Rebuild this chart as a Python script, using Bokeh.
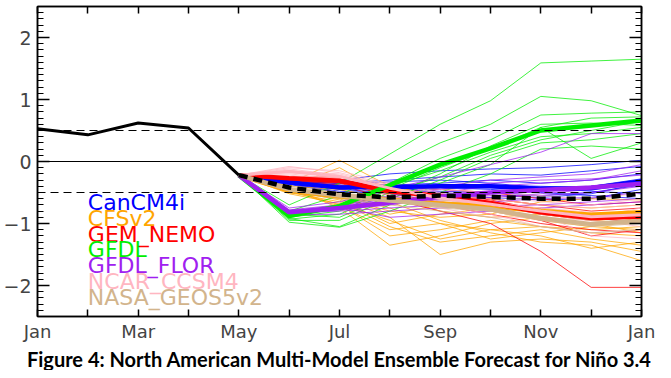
from bokeh.plotting import figure
from bokeh.models import LinearAxis, FixedTicker, Span, Title
from bokeh.core.properties import value
from bokeh.embed import file_html
from bokeh.resources import INLINE

# ---------------- data ----------------
month_labels = ["Jan", "", "Mar", "", "May", "", "Jul", "", "Sep", "", "Nov", "", "Jan"]
obs_months = [0, 1, 2, 3, 4]
obs_values = [0.53, 0.43, 0.62, 0.54, -0.22]
fc_months = [4, 5, 6, 7, 8, 9, 10, 11, 12]   # May (start) .. Jan

models = ["CanCM4i", "CFSv2", "GEM_NEMO", "GFDL", "GFDL_FLOR", "NCAR_CCSM4", "NASA_GEOS5v2"]
model_colors = ["#0000ff", "#ffa500", "#ff0000", "#00ee00", "#a020f0", "#ffb6c1", "#d2b48c"]

cancm4i_members = [
    [-0.30, -0.30, -0.20, -0.15, -0.12, -0.10, -0.05, 0.02],
    [-0.32, -0.35, -0.30, -0.25, -0.20, -0.22, -0.15, -0.08],
    [-0.33, -0.40, -0.38, -0.35, -0.30, -0.35, -0.30, -0.20],
    [-0.35, -0.42, -0.45, -0.40, -0.42, -0.45, -0.40, -0.28],
    [-0.34, -0.45, -0.50, -0.48, -0.50, -0.55, -0.50, -0.38],
    [-0.36, -0.48, -0.52, -0.55, -0.58, -0.62, -0.60, -0.45],
    [-0.33, -0.38, -0.42, -0.45, -0.38, -0.40, -0.42, -0.30],
    [-0.37, -0.50, -0.48, -0.42, -0.45, -0.50, -0.55, -0.60],
    [-0.31, -0.36, -0.33, -0.30, -0.35, -0.42, -0.48, -0.52],
    [-0.35, -0.44, -0.40, -0.50, -0.55, -0.58, -0.52, -0.35],
]
cfsv2_members = [
    [-0.35, 0.02, -0.40, -0.55, -0.60, -0.70, -0.75, -0.70],
    [-0.40, -0.10, -0.55, -0.80, -0.90, -0.85, -0.95, -1.00],
    [-0.45, -0.55, -0.75, -1.00, -1.10, -1.05, -1.15, -1.20],
    [-0.50, -0.65, -1.05, -1.30, -1.20, -1.10, -1.25, -1.35],
    [-0.45, -0.70, -1.20, -1.10, -0.95, -1.05, -1.10, -1.05],
    [-0.50, -0.60, -0.90, -1.50, -1.30, -1.25, -1.30, -1.45],
    [-0.42, -0.75, -1.35, -1.20, -1.00, -0.90, -1.00, -1.15],
    [-0.48, -0.55, -0.85, -0.70, -0.80, -0.95, -1.05, -0.90],
    [-0.44, -0.50, -0.65, -0.95, -1.15, -1.30, -1.35, -1.60],
    [-0.46, -0.62, -1.00, -0.85, -0.75, -0.80, -0.90, -0.85],
    [-0.40, -0.45, -0.60, -0.65, -0.70, -0.75, -0.85, -0.80],
    [-0.52, -0.68, -0.95, -1.25, -1.10, -1.20, -1.40, -1.30],
    [-0.43, -0.58, -0.80, -0.90, -0.85, -0.65, -0.60, -0.62],
    [-0.47, -0.72, -1.10, -1.00, -1.25, -1.15, -1.05, -1.10],
]
gem_nemo_members = [
    [-0.25, -0.25, -0.40, -0.45, -0.50, -0.60, -0.70, -0.65],
    [-0.28, -0.30, -0.50, -0.60, -0.70, -0.85, -0.95, -0.90],
    [-0.30, -0.35, -0.55, -0.70, -0.85, -1.00, -1.10, -1.15],
    [-0.27, -0.28, -0.45, -0.55, -0.60, -0.70, -0.80, -0.75],
    [-0.30, -0.38, -0.60, -0.80, -1.00, -1.45, -2.03, -2.03],
    [-0.26, -0.32, -0.48, -0.52, -0.62, -0.78, -0.90, -1.00],
    [-0.29, -0.34, -0.52, -0.65, -0.75, -0.95, -1.20, -1.10],
]
gfdl_members = [
    [-0.70, -0.35, 0.12, 0.60, 0.98, 1.59, 1.62, 1.65],
    [-0.80, -0.55, -0.10, 0.30, 0.60, 1.05, 0.98, 0.74],
    [-0.85, -0.70, -0.35, 0.05, 0.35, 0.75, 0.78, 0.80],
    [-0.90, -0.80, -0.45, -0.10, 0.20, 0.55, 0.70, 0.72],
    [-0.88, -0.75, -0.40, -0.15, 0.15, 0.40, 0.45, 0.55],
    [-0.95, -0.95, -0.60, -0.30, 0.05, 0.30, 0.35, 0.45],
    [-0.92, -1.05, -0.70, -0.35, -0.05, 0.55, 0.05, 0.30],
    [-0.98, -1.06, -0.80, -0.50, -0.20, 0.20, 0.25, 0.20],
    [-0.85, -0.90, -0.55, -0.20, 0.25, 0.60, 0.62, 0.58],
    [-0.93, -0.85, -0.50, -0.25, 0.10, 0.35, 0.50, 0.65],
]
gfdl_flor_members = [
    [-0.75, -0.65, -0.45, -0.25, -0.05, 0.15, 0.45, 0.45],
    [-0.78, -0.70, -0.55, -0.40, -0.30, -0.25, -0.20, -0.05],
    [-0.80, -0.72, -0.60, -0.50, -0.40, -0.35, -0.30, -0.15],
    [-0.82, -0.75, -0.65, -0.55, -0.50, -0.45, -0.40, -0.30],
    [-0.85, -0.78, -0.70, -0.60, -0.55, -0.55, -0.50, -0.40],
    [-0.83, -0.80, -0.75, -0.70, -0.65, -0.60, -0.58, -0.50],
    [-0.86, -0.85, -0.80, -0.75, -0.72, -0.70, -0.65, -0.60],
    [-0.79, -0.74, -0.90, -0.85, -0.80, -0.75, -0.70, -0.65],
    [-0.81, -0.70, -0.58, -0.45, -0.35, -0.30, -0.28, -0.22],
    [-0.84, -0.76, -0.68, -0.62, -0.58, -0.52, -0.45, -0.35],
]
ncar_ccsm4_members = [
    [-0.10, -0.15, -0.35, -0.50, -0.55, -0.65, -0.70, -0.60],
    [-0.15, -0.20, -0.40, -0.60, -0.70, -0.80, -0.85, -0.80],
    [-0.18, -0.25, -0.45, -0.65, -0.80, -0.95, -1.00, -0.95],
    [-0.20, -0.28, -0.50, -0.55, -0.60, -0.70, -0.75, -0.70],
    [-0.12, -0.22, -0.42, -0.70, -0.85, -1.05, -1.15, -1.10],
    [-0.22, -0.30, -0.55, -0.75, -0.90, -0.90, -0.95, -1.05],
    [-0.08, -0.18, -0.38, -0.45, -0.50, -0.55, -0.62, -0.50],
    [-0.25, -0.32, -0.48, -0.62, -0.72, -0.85, -1.20, -1.25],
    [-0.16, -0.24, -0.44, -0.58, -0.66, -0.75, -0.82, -0.88],
    [-0.14, -0.26, -0.36, -0.52, -0.64, -0.78, -0.90, -0.75],
]
nasa_geos5v2_members = [
    [-0.40, -0.50, -0.60, -0.65, -0.70, -0.85, -0.95, -0.85],
    [-0.45, -0.55, -0.65, -0.75, -0.80, -0.95, -1.05, -1.00],
    [-0.50, -0.60, -0.70, -0.80, -0.90, -1.05, -1.15, -1.10],
    [-0.42, -0.52, -0.58, -0.62, -0.68, -0.80, -0.90, -0.92],
]

cancm4i_mean = [-0.34, -0.42, -0.41, -0.40, -0.40, -0.44, -0.43, -0.32]
cfsv2_mean = [-0.47, -0.56, -0.62, -0.68, -0.72, -0.80, -0.86, -0.82]
gem_nemo_mean = [-0.27, -0.31, -0.48, -0.56, -0.67, -0.82, -0.91, -0.89]
gfdl_mean = [-0.88, -0.72, -0.38, -0.05, 0.21, 0.50, 0.58, 0.66]
gfdl_flor_mean = [-0.82, -0.75, -0.66, -0.57, -0.50, -0.46, -0.42, -0.36]
ncar_ccsm4_mean = [-0.16, -0.24, -0.43, -0.59, -0.69, -0.80, -0.89, -0.86]
nasa_geos5v2_mean = [-0.45, -0.55, -0.63, -0.70, -0.77, -0.91, -1.01, -0.96]
mme_mean = [-0.42, -0.53, -0.58, -0.55, -0.57, -0.60, -0.60, -0.52]

all_members = [cancm4i_members, cfsv2_members, gem_nemo_members, gfdl_members,
               gfdl_flor_members, ncar_ccsm4_members, nasa_geos5v2_members]
all_means = [cancm4i_mean, cfsv2_mean, gem_nemo_mean, gfdl_mean,
             gfdl_flor_mean, ncar_ccsm4_mean, nasa_geos5v2_mean]
mean_widths = [4.5, 4.5, 4.5, 4.5, 4.5, 3, 4.5]

caption = "Figure 4: North American Multi-Model Ensemble Forecast for Niño 3.4"

# ---------------- figure ----------------
W, H = 658, 370
p = figure(width=W, height=H, x_range=(0, 12), y_range=(-2.5, 2.5),
           output_backend="svg", toolbar_location=None,
           x_axis_location=None, y_axis_location=None,
           min_border_left=35, min_border_right=17, min_border_top=6, min_border_bottom=40)
p.background_fill_color = "white"
p.border_fill_color = "white"
p.outline_line_color = "black"
p.outline_line_width = 1.5
p.xgrid.visible = False
p.ygrid.visible = False

start = obs_values[-1]

# reference lines
p.add_layout(Span(location=0, dimension="width", line_color="black", line_width=1.2))
for v in (0.5, -0.5):
    p.add_layout(Span(location=v, dimension="width", line_color="black",
                      line_width=1.2, line_dash="8 5"))

# ensemble members
for members, col in zip(all_members, model_colors):
    xs = [fc_months for _ in members]
    ys = [[start] + m for m in members]
    p.multi_line(xs, ys, line_color=col, line_width=1, line_alpha=0.75)

# model means
for mean, col, lw in zip(all_means, model_colors, mean_widths):
    p.line(fc_months, [start] + mean, line_color=col, line_width=lw)

# multi-model mean
p.line(fc_months, [start] + mme_mean, line_color="black", line_width=4.5, line_dash="9 6")

# observations
p.line(obs_months, obs_values, line_color="black", line_width=3)

# legend text
legend_y = [-0.66, -0.92, -1.17, -1.42, -1.68, -1.93, -2.19]
for name, col, yy in zip(models, model_colors, legend_y):
    p.text(x=[1.0], y=[yy], text=[name], text_color=col, text_font_size="22px",
           text_baseline="middle", text_align="left", text_font=value("DejaVu Sans"))

# ---------------- axes ----------------
month_ticks = list(range(13))
y_major = [-2, -1, 0, 1, 2]
y_minor = [round(-2.5 + 0.1 * i, 1) for i in range(51)]

def style(ax, label=True, ticks=()):
    ax.axis_line_color = "black"
    ax.axis_line_width = 1.5
    ax.major_tick_line_color = "black"
    ax.major_tick_line_width = 1.5
    ax.minor_tick_line_color = "black"
    ax.minor_tick_line_width = 1.2
    ax.major_tick_out = 0
    ax.minor_tick_out = 0
    if not label:
        ax.major_label_overrides = {t: "" for t in ticks}
        ax.major_label_text_color = None
        ax.major_label_text_font_size = "1px"
        ax.major_label_standoff = 0

xb = LinearAxis(ticker=FixedTicker(ticks=month_ticks, minor_ticks=[]),
                major_label_overrides={i: s for i, s in enumerate(month_labels)})
style(xb)
xb.major_tick_in = 7
xb.major_label_standoff = 4
xb.major_label_text_font = "DejaVu Sans"
xb.major_label_text_font_size = "18px"
p.add_layout(xb, "below")

xt = LinearAxis(ticker=FixedTicker(ticks=month_ticks, minor_ticks=[]))
style(xt, label=False, ticks=month_ticks)
xt.major_tick_in = 7
p.add_layout(xt, "above")

yl = LinearAxis(ticker=FixedTicker(ticks=y_major, minor_ticks=y_minor),
                major_label_overrides={-2: "\u22122", -1: "\u22121", 0: "0", 1: "1", 2: "2"})
style(yl)
yl.major_tick_in = 12
yl.minor_tick_in = 6
yl.major_label_standoff = 6
yl.major_label_text_font = "DejaVu Sans"
yl.major_label_text_font_size = "19px"
p.add_layout(yl, "left")

yr = LinearAxis(ticker=FixedTicker(ticks=y_major, minor_ticks=y_minor))
style(yr, label=False, ticks=y_major)
yr.major_tick_in = 12
yr.minor_tick_in = 6
p.add_layout(yr, "right")

cap = Title(text=caption, align="center", text_font="Lato", text_font_size="20px",
            text_font_style="bold", text_color="black", standoff=0)
p.add_layout(cap, "below")

open("out.html", "w").write(file_html(p, INLINE))
